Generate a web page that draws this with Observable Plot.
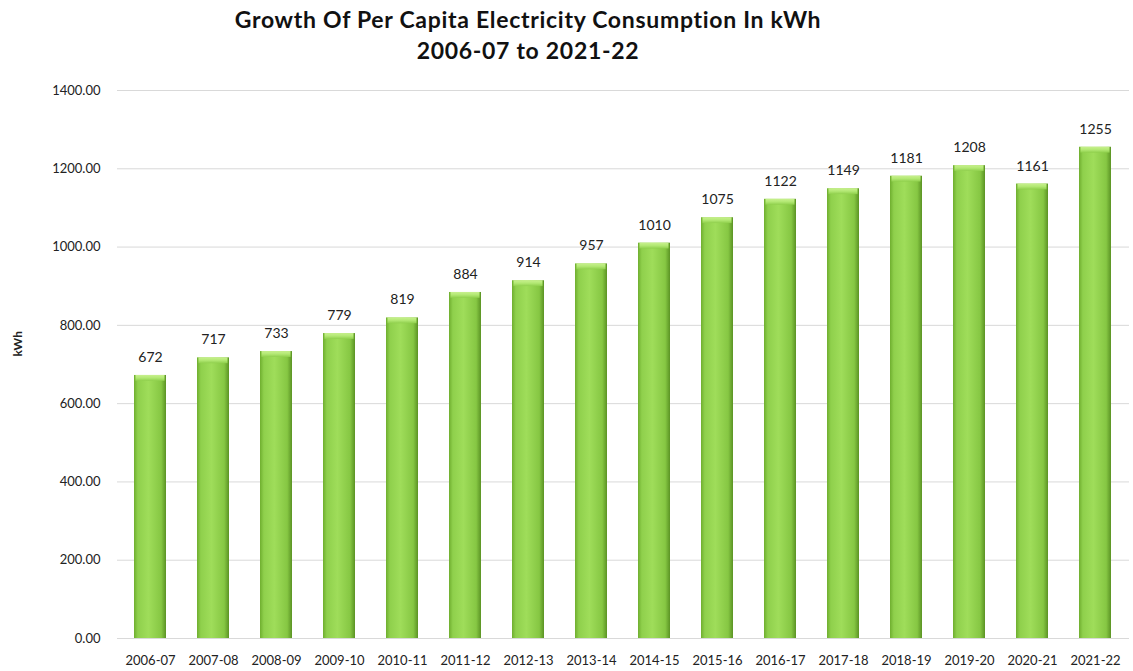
<!DOCTYPE html>
<html><head><meta charset="utf-8">
<script src="https://cdn.jsdelivr.net/npm/d3@7"></script>
<script src="https://cdn.jsdelivr.net/npm/@observablehq/plot@0.6"></script>
<style>
body{margin:0;background:#fff;font-family:Lato,"Open Sans",sans-serif;}
#title{height:70px;width:1056px;text-align:center;font-weight:bold;font-size:23px;letter-spacing:0.7px;line-height:31px;color:#111;padding-top:4px;box-sizing:border-box;}
</style></head>
<body>
<div id="title">Growth Of Per Capita Electricity Consumption In kWh<br>2006-07 to 2021-22</div>
<div id="chart"></div>
<script>
const years = ["2006-07","2007-08","2008-09","2009-10","2010-11","2011-12","2012-13","2013-14","2014-15","2015-16","2016-17","2017-18","2018-19","2019-20","2020-21","2021-22"];
const values = [672,717,733,779,819,884,914,957,1010,1075,1122,1149,1181,1208,1161,1255];
const yTicks = [0,200,400,600,800,1000,1200,1400];
const data = years.map((y,i)=>({year:y, v:values[i]}));

const plot = Plot.plot({
  width:1133, height:601,
  marginTop:20, marginBottom:33, marginLeft:117, marginRight:4,
  style:{fontFamily:"Lato, 'Open Sans', sans-serif", fontSize:"13px", color:"#222", background:"#fff"},
  x:{domain:years, paddingInner:0.49, paddingOuter:0.24, label:null, tickSize:0, tickPadding:17},
  y:{domain:[0,1400], ticks:yTicks, tickFormat:d=>d.toFixed(2), label:null, tickSize:0, tickPadding:17},
  marks:[
    Plot.gridY(yTicks,{stroke:"#d9d9d9", strokeOpacity:1}),
    Plot.barY(data,{x:"year", y:"v", fill:"url(#barGrad)"}),
    Plot.barY(data,{x:"year", y1:d=>d.v-15, y2:"v", fill:"url(#capGrad)", insetLeft:1.5, insetRight:1.5}),
    Plot.text(data,{x:"year", y:"v", text:d=>String(d.v), dy:-18, fontSize:14, fill:"#222"}),
    Plot.text(["kWh"],{frameAnchor:"left", dx:-99, dy:-8, rotate:-90, fontWeight:"bold", fontSize:12, fill:"#222"})
  ]
});
const ns="http://www.w3.org/2000/svg";
const defs=document.createElementNS(ns,"defs");
defs.innerHTML=`
<linearGradient id="barGrad" x1="0" x2="1" y1="0" y2="0">
  <stop offset="0" stop-color="#6fae2f"/>
  <stop offset="0.12" stop-color="#8fd04c"/>
  <stop offset="0.45" stop-color="#9fdd5a"/>
  <stop offset="0.85" stop-color="#86c743"/>
  <stop offset="1" stop-color="#5b9324"/>
</linearGradient>
<linearGradient id="capGrad" x1="0" x2="0" y1="0" y2="1">
  <stop offset="0" stop-color="#c8f08e"/>
  <stop offset="0.5" stop-color="#b2e873"/>
  <stop offset="1" stop-color="#8fcf4c"/>
</linearGradient>`;
plot.insertBefore(defs, plot.firstChild);
document.getElementById("chart").appendChild(plot);
</script>
</body></html>
